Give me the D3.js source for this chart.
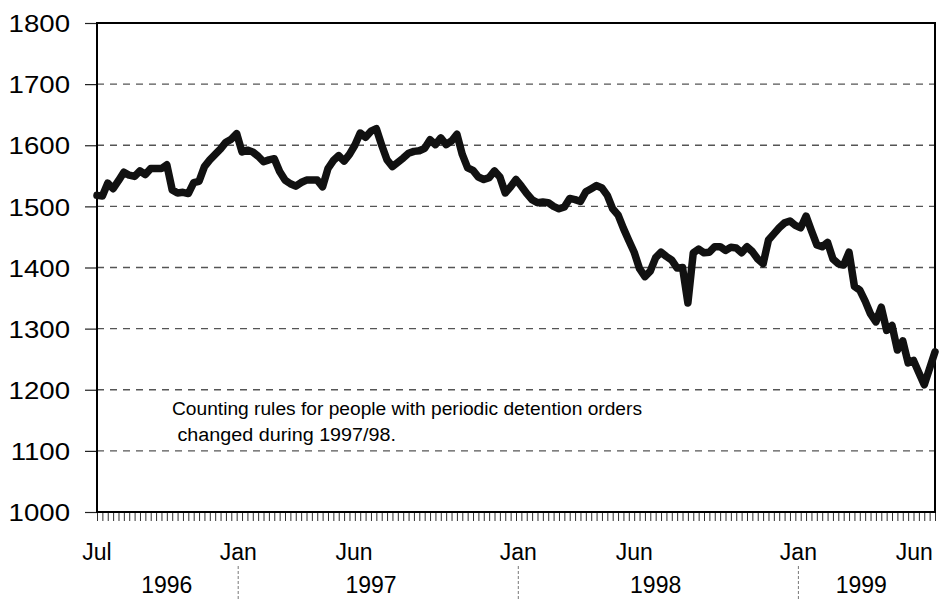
<!DOCTYPE html>
<html><head><meta charset="utf-8">
<script src="https://cdn.jsdelivr.net/npm/d3@7"></script>
<style>body{margin:0;background:#fff}svg{display:block}</style>
</head><body><svg id="c" width="944" height="599"></svg>
<script>
// ---- data ----
const startDate = "1996-07-01";   // first weekly observation
const endDate = "1999-06-28";     // last weekly observation
const values = [
1518,1517,1538,1529,1542,1556,1551,1549,1558,1552,
1562,1562,1562,1568,1527,1522,1523,1521,1539,1541,
1565,1576,1585,1594,1605,1610,1619,1589,1592,1589,
1582,1573,1576,1578,1557,1543,1537,1533,1539,1543,
1543,1543,1532,1562,1575,1583,1574,1585,1600,1620,
1613,1623,1627,1600,1576,1565,1572,1579,1587,1590,
1591,1595,1609,1601,1612,1601,1607,1618,1585,1563,
1559,1548,1544,1547,1558,1548,1522,1532,1544,1533,
1521,1511,1506,1507,1506,1500,1496,1499,1513,1511,
1508,1524,1529,1534,1530,1518,1496,1486,1464,1444,
1425,1398,1385,1394,1416,1425,1418,1412,1399,1400,
1342,1424,1430,1424,1425,1434,1434,1428,1433,1432,
1424,1434,1426,1414,1406,1445,1455,1465,1473,1476,
1469,1465,1484,1460,1437,1434,1441,1414,1406,1404,
1425,1369,1363,1345,1324,1311,1335,1297,1305,1265,
1280,1244,1248,1228,1208,1235,1262
];
const yTicks = [1000,1100,1200,1300,1400,1500,1600,1700,1800];
const monthLabelDates = ["1996-07-01","1997-01-01","1997-06-01","1998-01-01","1998-06-01","1999-01-01","1999-06-01"];
const monthLabelTexts = ["Jul","Jan","Jun","Jan","Jun","Jan","Jun"];
const yearLabelDates = ["1996-09-30","1997-06-23","1998-06-29","1999-03-24"];
const yearLabelTexts = ["1996","1997","1998","1999"];
const yearDividers = ["1997-01-01","1998-01-01","1999-01-01"];
const noteLines = ["Counting rules for people with periodic detention orders", " changed during 1997/98."];

// ---- layout ----
const svg = d3.select("#c");
const L = 97, R = 935, T = 23, B = 512;
const parse = d3.utcParse("%Y-%m-%d");
const t0 = parse(startDate);
const dates = values.map((v, i) => d3.utcDay.offset(t0, 7 * i));
const x = d3.scaleUtc().domain([t0, parse(endDate)]).range([L, R]);
const y = d3.scaleLinear().domain([1000, 1800]).range([B, T]);
const font = "'Liberation Sans', Arial, sans-serif";

svg.append("rect").attr("width", 944).attr("height", 599).attr("fill", "#fff");

// gridlines
svg.append("g").selectAll("line").data(yTicks.filter(d => d > 1000 && d < 1800)).join("line")
  .attr("x1", L).attr("x2", R).attr("y1", d => y(d)).attr("y2", d => y(d))
  .attr("stroke", "#555").attr("stroke-width", 1.3).attr("stroke-dasharray", "7,6");

// y axis
const yAxis = svg.append("g").attr("transform", `translate(${L},0)`)
  .call(d3.axisLeft(y).tickValues(yTicks).tickSize(12).tickFormat(d3.format("d")));
yAxis.select(".domain").remove();
yAxis.selectAll(".tick line").attr("stroke", "#222").attr("stroke-width", 1.2);
yAxis.selectAll(".tick text")
  .attr("font-family", font).attr("font-size", 24).attr("fill", "#000")
  .attr("x", 0).attr("dy", "0.36em")
  .attr("transform", "translate(-27,0) scale(1.15,1)");

// x axis weekly ticks
const xAxis = svg.append("g").attr("transform", `translate(0,${B})`)
  .call(d3.axisBottom(x).tickValues(dates).tickSize(9).tickFormat(""));
xAxis.select(".domain").remove();
xAxis.selectAll(".tick line").attr("stroke", "#333").attr("stroke-width", 1);

// month labels
svg.append("g").selectAll("text").data(monthLabelDates).join("text")
  .attr("x", d => x(parse(d))).attr("y", 560)
  .attr("text-anchor", "middle").attr("font-family", font).attr("font-size", 23)
  .text((d, i) => monthLabelTexts[i]);

// year labels
svg.append("g").selectAll("text").data(yearLabelDates).join("text")
  .attr("x", d => x(parse(d))).attr("y", 593)
  .attr("text-anchor", "middle").attr("font-family", font).attr("font-size", 23)
  .text((d, i) => yearLabelTexts[i]);

// year dividers
svg.append("g").selectAll("line").data(yearDividers).join("line")
  .attr("x1", d => x(parse(d))).attr("x2", d => x(parse(d)))
  .attr("y1", 566).attr("y2", 599)
  .attr("stroke", "#777").attr("stroke-width", 1).attr("stroke-dasharray", "3,2");

// plot frame
svg.append("rect").attr("x", L).attr("y", T).attr("width", R - L).attr("height", B - T)
  .attr("fill", "none").attr("stroke", "#000").attr("stroke-width", 2);

// data line
svg.append("path").datum(values)
  .attr("d", d3.line().x((d, i) => x(dates[i])).y(d => y(d)))
  .attr("fill", "none").attr("stroke", "#111").attr("stroke-width", 7.5)
  .attr("stroke-linejoin", "round").attr("stroke-linecap", "round");

// annotation
const noteX = [172, 172], noteY = [415, 441], noteW = [470, 224];
svg.append("g").selectAll("text").data(noteLines).join("text")
  .attr("x", (d, i) => noteX[i]).attr("y", (d, i) => noteY[i])
  .attr("font-family", "'Liberation Sans Narrow', 'Liberation Sans', Arial, sans-serif")
  .attr("font-size", 18).attr("xml:space", "preserve").style("white-space", "pre")
  .attr("textLength", (d, i) => noteW[i]).attr("lengthAdjust", "spacingAndGlyphs")
  .text(d => d);
</script>
</body></html>
